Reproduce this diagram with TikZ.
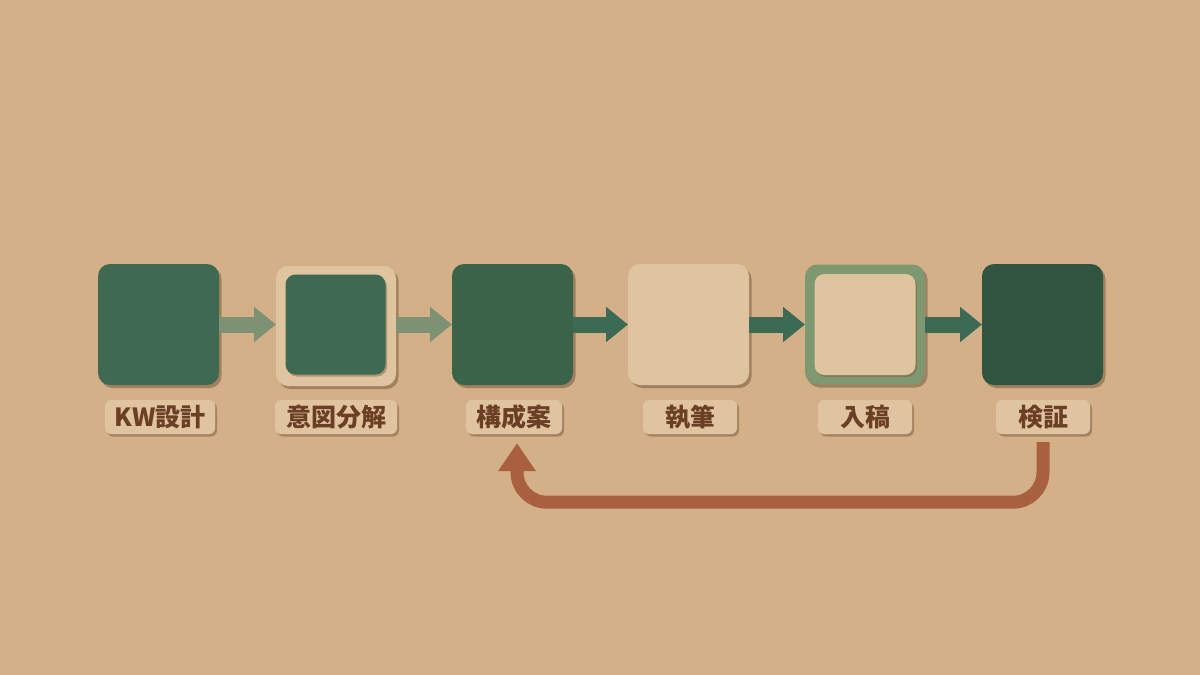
\documentclass[tikz,border=0pt]{standalone}
\usepackage{fontspec}
\newfontfamily\jp{Noto Sans CJK JP}
\usetikzlibrary{arrows.meta,shadows}
\definecolor{bg}{HTML}{D4B089}
\definecolor{gA}{HTML}{3F6A51}
\definecolor{gB}{HTML}{3A6349}
\definecolor{gC}{HTML}{2F5541}
\definecolor{cream}{HTML}{DFC4A0}
\definecolor{sage}{HTML}{7E9872}
\definecolor{labfill}{HTML}{E0C49F}
\definecolor{labtext}{HTML}{6A3F25}
\definecolor{arrlight}{HTML}{7C9272}
\definecolor{arrdark}{HTML}{3C6A55}
\definecolor{fbcol}{HTML}{A9603F}
\definecolor{shd}{HTML}{7A5A3A}
\tikzset{
  sq/.style={rounded corners=12pt, inner sep=0pt, outer sep=0pt, minimum width=#1, minimum height=#1,
    drop shadow={shadow xshift=2.5pt, shadow yshift=-3pt, fill=shd, opacity=0.55}},
  inner/.style={rounded corners=10pt, inner sep=0pt, outer sep=0pt, minimum width=#1, minimum height=#1,
    drop shadow={shadow xshift=1.5pt, shadow yshift=-2pt, fill=shd, opacity=0.45}},
  lab/.style={rounded corners=6pt, fill=labfill, inner sep=0pt, minimum height=34pt, minimum width=#1,
    text=labtext, font=\jp\bfseries\fontsize{25}{25}\selectfont,
    drop shadow={shadow xshift=2pt, shadow yshift=-2.5pt, fill=shd, opacity=0.5}},
  flowarr/.style={line width=16pt, draw=#1, -{Triangle[length=22pt,width=34pt]}},
  fb/.style={line width=13pt, draw=fbcol, rounded corners=30pt, -{Triangle[length=28pt,width=36pt]}}
}
\begin{document}
\begin{tikzpicture}[x=1pt,y=-1pt]
\useasboundingbox (0,0) rectangle (1200,675);
\fill[bg] (0,0) rectangle (1200,675);
% boxes
\node[sq=121pt, fill=gA] (b1) at (158.5,324.5) {};
\node[sq=120pt, fill=cream] (b2) at (336,326) {};
\node[inner=100pt, fill=gA] (b2i) at (335.5,324.5) {};
\node[sq=121pt, fill=gB] (b3) at (512.5,324.5) {};
\node[sq=121pt, fill=cream] (b4) at (688.5,324.5) {};
\node[sq=120pt, fill=sage] (b5) at (865,324.5) {};
\node[inner=101pt, fill=cream] (b5i) at (865,324.5) {};
\node[sq=121pt, fill=gC] (b6) at (1042.5,324.5) {};
% labels
\node[lab=110pt] (l1) at (160,417) {KW設計};
\node[lab=122pt] (l2) at (336,417) {意図分解};
\node[lab=96pt] (l3) at (514,417) {構成案};
\node[lab=94pt] (l4) at (690,417) {執筆};
\node[lab=94pt] (l5) at (865,417) {入稿};
\node[lab=94pt] (l6) at (1043,417) {検証};
% flow arrows
\draw[flowarr=arrlight] (b1.east) -- (b1.east -| b2.west);
\draw[flowarr=arrlight] (b2.east |- b3.east) -- (b3.west);
\draw[flowarr=arrdark] (b3.east) -- (b4.west);
\draw[flowarr=arrdark] (b4.east) -- (b5.west |- b4.east);
\draw[flowarr=arrdark] (b5.east |- b6.west) -- (b6.west);
% feedback arrow
\draw[fb] ([yshift=-8pt]l6.south) -- ++(0,60) -| ([yshift=-9pt,xshift=3pt]l3.south);
\end{tikzpicture}
\end{document}
